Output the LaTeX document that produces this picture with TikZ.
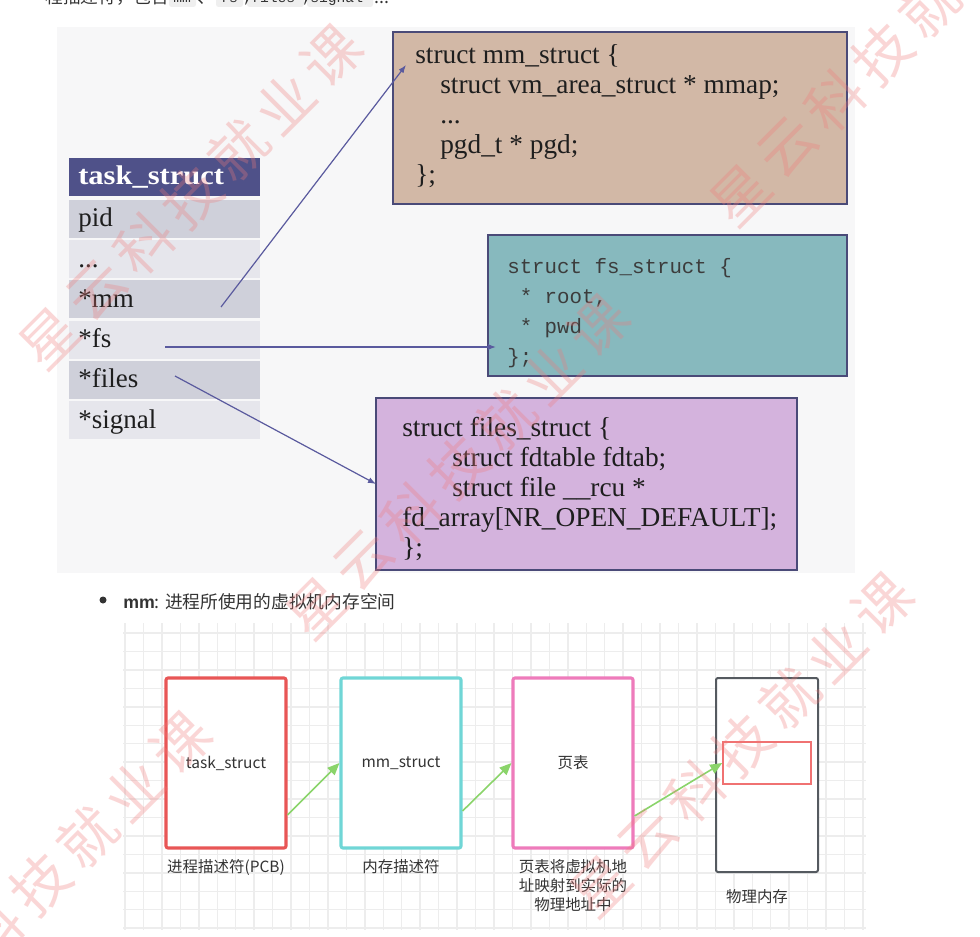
\documentclass[tikz,border=0pt]{standalone}
\usepackage{fontspec}
\usepackage{graphicx}
\usetikzlibrary{arrows.meta,calc}
\setmainfont{Liberation Serif}
\newfontfamily\cjk{Noto Sans CJK SC}
\newfontfamily\monof{Liberation Mono}
\newfontfamily\sansb{Liberation Sans}
\newdimen\pxu \pxu=0.75pt
\definecolor{panelbg}{HTML}{F7F7F8}
\definecolor{hdr}{HTML}{4F5189}
\definecolor{rowA}{HTML}{CFD0DA}
\definecolor{rowB}{HTML}{E6E6EC}
\definecolor{mmfill}{HTML}{D2B8A6}
\definecolor{fsfill}{HTML}{87B9BE}
\definecolor{filesfill}{HTML}{D4B3DD}
\definecolor{boxedge}{HTML}{4A4A78}
\definecolor{arrowblue}{HTML}{5A5A9E}
\definecolor{txt}{HTML}{1E1E1E}
\definecolor{txtgray}{HTML}{333333}
\definecolor{monotxt}{HTML}{3C3C3C}
\definecolor{gridc}{HTML}{EDEDED}
\definecolor{redb}{HTML}{E85656}
\definecolor{cyanb}{HTML}{70D6D6}
\definecolor{pinkb}{HTML}{EE7BBB}
\definecolor{darkb}{HTML}{555A60}
\definecolor{innerred}{HTML}{F07272}
\definecolor{greenarr}{HTML}{8AD46A}
\definecolor{wm}{HTML}{F07A7A}
\definecolor{codebg}{HTML}{EFEFEF}
\begin{document}
\begin{tikzpicture}[x=0.75pt,y=-0.75pt,
  cell/.style={anchor=north west,inner sep=0,outer sep=0,minimum width=191\pxu,minimum height=38\pxu},
  celltext/.style={anchor=base west,inner sep=0,text=txt,font=\fontsize{20.25pt}{22pt}\selectfont},
  codebox/.style={draw=boxedge,line width=1.4pt,anchor=north west,inner sep=0,outer sep=0},
  codetext/.style={anchor=base west,inner sep=0,text=txt,font=\fontsize{20.5pt}{22.5pt}\selectfont},
  monotext/.style={anchor=base west,inner sep=0,text=monotxt,font=\monof\fontsize{15.6pt}{22.5pt}\selectfont},
  ptr/.style={draw=arrowblue,line width=0.9pt,-{Latex[length=6pt,width=4.5pt]}},
  bbox/.style={rounded corners=1.5pt,minimum width=120\pxu,minimum height=170\pxu,inner sep=0,fill=white,text=txtgray,font=\cjk\fontsize{11.6pt}{14pt}\selectfont},
  blabel/.style={inner sep=0,align=center,text=txtgray,font=\cjk\fontsize{11.6pt}{14.25pt}\selectfont},
  flow/.style={draw=greenarr,line width=1.2pt,-{Triangle[length=9pt,width=7.5pt]}},
  wmark/.style={inner sep=0,rotate=45,text=wm,text opacity=0.3,font=\cjk\fontsize{43pt}{43pt}\selectfont}
]
\useasboundingbox (0,0) rectangle (980,937);
\fill[white] (0,0) rectangle (980,937);

% cut-off intro line
\node[anchor=base west,inner sep=0,text=txtgray,font=\cjk\fontsize{13.3pt}{16pt}\selectfont] (intro) at (45,4) {程描述符，包含};
\fill[codebg,rounded corners=2pt] (169,-14) rectangle (196,7);
\fill[codebg,rounded corners=2pt] (216,-14) rectangle (243,7);
\fill[codebg,rounded corners=2pt] (247,-14) rectangle (304,7);
\fill[codebg,rounded corners=2pt] (307,-14) rectangle (373,7);
\node[anchor=base west,inner sep=0,text=txtgray,font=\monof\fontsize{11pt}{13pt}\selectfont] (code1) at (173,3) {mm};
\node[anchor=base west,inner sep=0,text=txtgray,font=\cjk\fontsize{13.3pt}{16pt}\selectfont] (sep1) at (197,4) {、};
\node[anchor=base west,inner sep=0,text=txtgray,font=\monof\fontsize{11pt}{13pt}\selectfont] (code2) at (220,3) {fs};
\node[anchor=base west,inner sep=0,text=txtgray,font=\monof\fontsize{11pt}{13pt}\selectfont] (sep2) at (243,3) {,};
\node[anchor=base west,inner sep=0,text=txtgray,font=\monof\fontsize{11pt}{13pt}\selectfont] (code3) at (251,3) {files};
\node[anchor=base west,inner sep=0,text=txtgray,font=\monof\fontsize{11pt}{13pt}\selectfont] (sep3) at (302,3) {,};
\node[anchor=base west,inner sep=0,text=txtgray,font=\monof\fontsize{11pt}{13pt}\selectfont] (code4) at (310,3) {signal};
\node[anchor=base west,inner sep=0,text=txtgray,font=\cjk\fontsize{13.3pt}{16pt}\selectfont] (dots) at (374,4) {...};

% top panel
\fill[panelbg] (57,27) rectangle (855,573);

% task_struct table
\node[cell,fill=hdr] (hdr) at (69,158) {};
\node[anchor=base west,inner sep=0,text=white,font=\bfseries\fontsize{20.25pt}{22pt}\selectfont] (hdrtext) at (78,185) {\scalebox{1.13}[1]{task\_struct}};
\node[cell,fill=rowA] (row1) at (69,200) {};
\node[cell,fill=rowB] (row2) at (69,240.2) {};
\node[cell,fill=rowA] (row3) at (69,280.4) {};
\node[cell,fill=rowB] (row4) at (69,320.6) {};
\node[cell,fill=rowA] (row5) at (69,360.8) {};
\node[cell,fill=rowB] (row6) at (69,401) {};
\node[celltext] (rowt1) at (78,227) {pid};
\node[celltext] (rowt2) at (78,267.2) {...};
\node[celltext] (rowt3) at (78,307.4) {*mm};
\node[celltext] (rowt4) at (78,347.6) {*fs};
\node[celltext] (rowt5) at (78,387.8) {*files};
\node[celltext] (rowt6) at (78,428) {*signal};

% mm_struct box
\node[codebox,fill=mmfill,minimum width=454\pxu,minimum height=172\pxu] (mmbox) at (393,32) {};
\node[codetext] (mmtext) at (415,64) {\vtop{\hbox{struct mm\_struct \{}
\hbox{\hspace*{25\pxu}struct vm\_area\_struct * mmap;}
\hbox{\hspace*{25\pxu}...}
\hbox{\hspace*{25\pxu}pgd\_t * pgd;}
\hbox{\};}}};

% fs_struct box
\node[codebox,fill=fsfill,minimum width=359\pxu,minimum height=141\pxu] (fsbox) at (488,235) {};
\node[monotext] (fstext) at (507,274) {\vtop{\hbox{struct fs\_struct \{}
\hbox{\hspace*{12.5\pxu}* root,}
\hbox{\hspace*{12.5\pxu}* pwd}
\hbox{\};}}};

% files_struct box
\node[codebox,fill=filesfill,minimum width=421\pxu,minimum height=172\pxu] (filesbox) at (376,398) {};
\node[codetext] (filestext) at (402,436) {\vtop{\hbox{struct files\_struct \{}
\hbox{\hspace*{50\pxu}struct fdtable fdtab;}
\hbox{\hspace*{50\pxu}struct file \_\_rcu *}
\hbox{fd\_array[NR\_OPEN\_DEFAULT];}
\hbox{\};}}};

% pointer arrows
\coordinate (mmsrc) at (221,307);
\coordinate (fssrc) at (165,347);
\coordinate (filessrc) at (175,376);
\draw[ptr] (mmsrc) -- ([shift={(13,33)}]mmbox.north west);
\draw[ptr] (fssrc) -- ([shift={(8,112)}]fsbox.north west);
\draw[ptr] (filessrc) -- ([shift={(0,86)}]filesbox.north west);

% bullet line
\fill[txtgray] (103,600) circle (3.5);
\node[anchor=base west,inner sep=0,text=txtgray,font=\cjk\fontsize{13.3pt}{16pt}\selectfont] (bullet) at (123,608) {{\sansb\bfseries mm}: 进程所使用的虚拟机内存空间};

% grid
\foreach \k in {0,...,40} \draw[gridc,line width=1.1pt] (125+18.45*\k,623) -- (125+18.45*\k,930);
\foreach \k in {0,...,16} \draw[gridc,line width=1.1pt] (123,633+18.45*\k) -- (866,633+18.45*\k);

% flow boxes
\node[bbox,draw=redb,line width=2.3pt] (ts) at (226,763) {task\_struct};
\node[bbox,draw=cyanb,line width=2.3pt] (ms) at (401,763) {mm\_struct};
\node[bbox,draw=pinkb,line width=2.3pt] (pt) at (573,763) {页表};
\node[bbox,draw=darkb,line width=1.5pt,minimum width=102\pxu,minimum height=194\pxu] (pm) at (767,775) {};
\node[draw=innerred,line width=1.2pt,inner sep=0,minimum width=88\pxu,minimum height=42\pxu] (pg) at (767,763) {};

\node[blabel] (tsl) at (226,867) {进程描述符(PCB)};
\node[blabel] (msl) at (401,867) {内存描述符};
\node[blabel] (ptl) at (573,886) {页表将虚拟机地\\址映射到实际的\\物理地址中};
\node[blabel] (pml) at (757,897) {物理内存};

\draw[flow] ([shift={(0,52)}]ts.east) -- (ms.west);
\draw[flow] ([shift={(0,48)}]ms.east) -- (pt.west);
\draw[flow] ([shift={(0,53)}]pt.east) -- (pg.west);

% watermark
\foreach \sx/\sy [count=\j] in {50/338,317/608,741/195,-101/1025,601/886}{
  \foreach \c [count=\i from 0] in {星,云,科,技,就,业,课}
    \node[wmark] (wm\j-\i) at (\sx+47*\i,\sy-47*\i) {\c};
}
\end{tikzpicture}
\end{document}
